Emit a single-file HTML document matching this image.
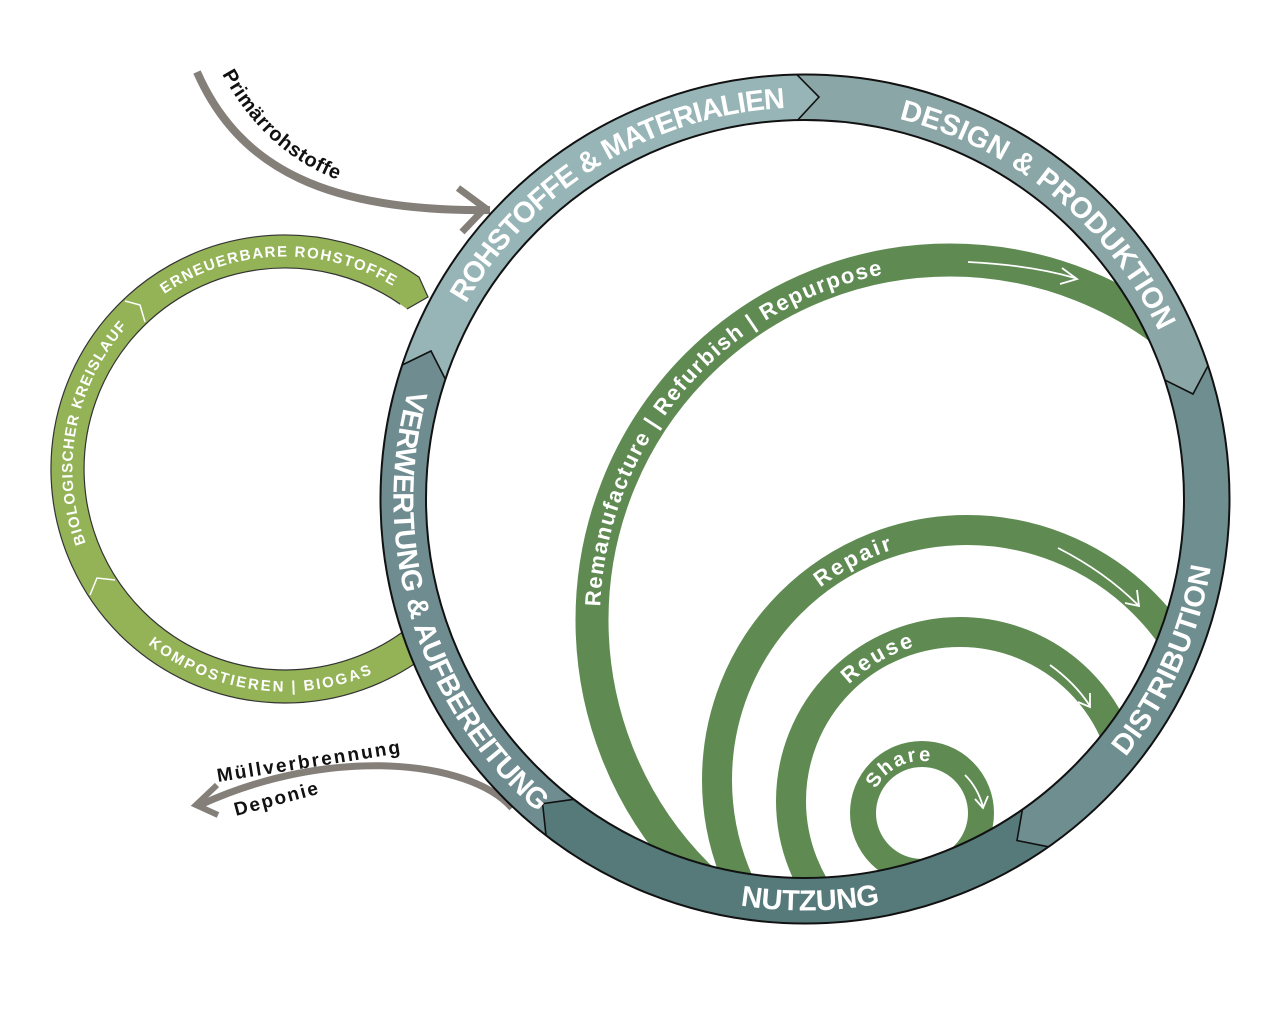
<!DOCTYPE html>
<html><head><meta charset="utf-8"><style>
html,body{margin:0;padding:0;background:#fff;}
svg{display:block;}
text{font-family:"Liberation Sans",sans-serif;}
</style></head><body>
<svg width="1275" height="1015" viewBox="0 0 1275 1015" xmlns="http://www.w3.org/2000/svg">
<defs>
<clipPath id="inner"><circle cx="805" cy="499" r="379"/></clipPath>
<path id="bigArc" d="M 592 620 A 358 360 0 0 1 1308 620"/>
<path id="repArc" d="M 717 780 A 250 250 0 0 1 1217 780"/>
<path id="reuArc" d="M 791 801 A 169 169 0 0 1 1129 801"/>
<path id="shaArc" d="M 863 813 A 59 59 0 0 1 981 813"/>
<path id="gCW" d="M 285 686.5 A 217.5 217.5 0 1 1 285 251.5 A 217.5 217.5 0 1 1 285 686.5"/>
<path id="gCCW" d="M 67.5 469 A 217.5 217.5 0 1 0 502.5 469 A 217.5 217.5 0 1 0 67.5 469"/>
<path id="mCW" d="M 403.5 499 A 401.5 401.5 0 1 1 1206.5 499 A 401.5 401.5 0 1 1 403.5 499"/>
<path id="mCCW" d="M 805 97.5 A 401.5 401.5 0 1 0 805 900.5 A 401.5 401.5 0 1 0 805 97.5"/>
<path id="primP" d="M 222 74 C 258 140, 308 176, 372 190"/>
</defs>

<path d="M 197 72 C 240 170, 330 212, 490 210" fill="none" stroke="#857f7a" stroke-width="8"/>
<polyline points="458,188 485,208 462,232" fill="none" stroke="#857f7a" stroke-width="7"/>
<text font-size="20" font-weight="bold" fill="#111"><textPath href="#primP" textLength="160">Primärrohstoffe</textPath></text>

<path d="M 512 808 C 470 760, 330 745, 200 805" fill="none" stroke="#857f7a" stroke-width="7"/>
<polyline points="217,785 196,805 218,815" fill="none" stroke="#857f7a" stroke-width="6"/>
<text x="218" y="782" font-size="19" font-weight="bold" fill="#111" transform="rotate(-9 218 782)" textLength="185">Müllverbrennung</text>
<text x="236" y="816" font-size="19" font-weight="bold" fill="#111" transform="rotate(-15 236 816)" textLength="86">Deponie</text>

<path d="M 424.8 635.6 A 217.5 217.5 0 1 1 409.8 290.8" fill="none" stroke="#93b356" stroke-width="33"/>
<path d="M 435.4 648.2 A 234 234 0 1 1 419.2 277.3" fill="none" stroke="#333" stroke-width="1.2"/>
<path d="M 414.2 623 A 201 201 0 1 1 400.3 304.3" fill="none" stroke="#333" stroke-width="1.2"/>
<polygon points="419,277 428,297 407,309 400,304 405,290" fill="#93b356"/>
<polyline points="419,277 428,297 407,309" fill="none" stroke="#333" stroke-width="1.2"/>
<polyline points="125,301 140,305 145,322" fill="none" stroke="#fff" stroke-width="1.5"/>
<polyline points="90,595 97,578 115,580" fill="none" stroke="#fff" stroke-width="1.5"/>
<text font-size="15" font-weight="bold" fill="#fff" dy="5"><textPath href="#gCW" startOffset="264" textLength="237">BIOLOGISCHER KREISLAUF</textPath></text>
<text font-size="15" font-weight="bold" fill="#fff" dy="5"><textPath href="#gCW" startOffset="552" textLength="247">ERNEUERBARE ROHSTOFFE</textPath></text>
<text font-size="15" font-weight="bold" fill="#fff" dy="5"><textPath href="#gCCW" startOffset="197" textLength="232">KOMPOSTIEREN | BIOGAS</textPath></text>

<g clip-path="url(#inner)" fill="none" stroke="#5f8b53">
<ellipse cx="950" cy="620" rx="358" ry="360" stroke-width="33"/>
<circle cx="967" cy="780" r="250" stroke-width="30"/>
<circle cx="960" cy="801" r="169" stroke-width="30"/>
<circle cx="922" cy="813" r="59" stroke-width="26"/>
</g>
<g font-size="22" font-weight="bold" fill="#fff">
<text dy="8"><textPath href="#bigArc" startOffset="14" textLength="480">Remanufacture | Refurbish | Repurpose</textPath></text>
<text dy="8"><textPath href="#repArc" startOffset="230" textLength="84">Repair</textPath></text>
<text dy="8"><textPath href="#reuArc" startOffset="137" textLength="79">Reuse</textPath></text>
<text dy="7" font-size="20"><textPath href="#shaArc" startOffset="29" textLength="72">Share</textPath></text>
</g>
<g fill="none" stroke="#fff" stroke-width="1.8">
<path d="M 968 262 Q 1030 265 1075 278"/><polyline points="1062,268 1077,279 1060,284"/>
<path d="M 1058 548 Q 1105 572 1138 605"/><polyline points="1125,603 1139,606 1137,590"/>
<path d="M 1050 665 Q 1075 683 1090 706"/><polyline points="1078,702 1090,707 1090,693"/>
<path d="M 965 775 Q 978 788 983 807"/><polyline points="975,799 983,808 988,796"/>
</g>

<g fill="none" stroke-width="46">
<path d="M 424.0 372.3 A 401.5 401.5 0 0 1 797.3 97.6" stroke="#97b5b6"/>
<path d="M 797.3 97.6 A 401.5 401.5 0 0 1 1186.2 372.9" stroke="#8ba6a7"/>
<path d="M 1186.2 372.9 A 401.5 401.5 0 0 1 1035.3 827.9" stroke="#6f8e90"/>
<path d="M 1035.3 827.9 A 401.5 401.5 0 0 1 560.0 817.1" stroke="#56797a"/>
<path d="M 560.0 817.1 A 401.5 401.5 0 0 1 424.0 372.3" stroke="#6f8d90"/>
</g>
<polygon points="402.2,365 431,351 445.4,379.3 421,381.8" fill="#6f8d90"/>
<polygon points="796.8,74.6 819,97 797.7,120.1 787.3,97.8" fill="#97b5b6"/>
<polygon points="1208,365.7 1193,394 1164.8,380 1183,363.4" fill="#8ba6a7"/>
<polygon points="1048.5,846.8 1017,840.5 1022.4,809.5 1043.5,822.2" fill="#6f8e90"/>
<polygon points="546,835.3 542.6,803.7 573.8,799.3 568,823.2" fill="#56797a"/>
<g fill="none" stroke="#111" stroke-width="1.6">
<polyline points="402.2,365 431,351 445.4,379.3"/>
<polyline points="796.8,74.6 819,97 797.7,120.1"/>
<polyline points="1208,365.7 1193,394 1164.8,380"/>
<polyline points="1048.5,846.8 1017,840.5 1022.4,809.5"/>
<polyline points="546,835.3 542.6,803.7 573.8,799.3"/>
<circle cx="805" cy="499" r="424.5" stroke-width="2"/>
<circle cx="805" cy="499" r="379" stroke-width="2"/>
</g>
<g font-size="29" font-weight="bold" fill="#fff">
<text dy="10"><textPath href="#mCW" startOffset="210" textLength="400">ROHSTOFFE &amp; MATERIALIEN</textPath></text>
<text dy="10"><textPath href="#mCW" startOffset="728" textLength="355">DESIGN &amp; PRODUKTION</textPath></text>
<text dy="10"><textPath href="#mCCW" startOffset="522" textLength="456">VERWERTUNG &amp; AUFBEREITUNG</textPath></text>
<text dy="10"><textPath href="#mCCW" startOffset="1197" textLength="138">NUTZUNG</textPath></text>
<text dy="10"><textPath href="#mCCW" startOffset="1619" textLength="206">DISTRIBUTION</textPath></text>
</g>
</svg>
</body></html>
